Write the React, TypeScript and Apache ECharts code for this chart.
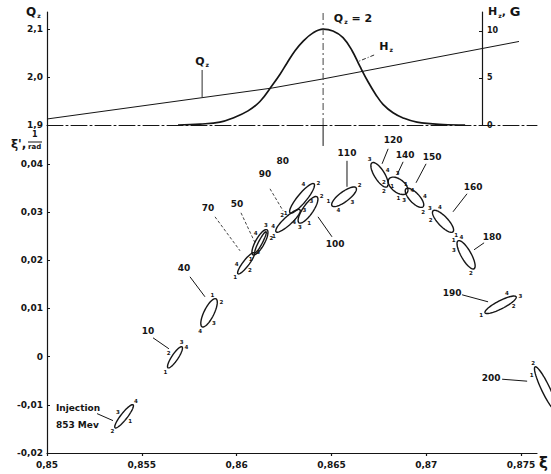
import React, { useEffect, useRef } from "react";
import * as echarts from "echarts";

// ---------- axes ----------
const xiMin = 0.85;
const xiMax = 0.87584;
const xiTicks = [0.85, 0.855, 0.86, 0.865, 0.87, 0.875];
const xiTickLabels = ["0,85", "0,855", "0,86", "0,865", "0,87", "0,875"];
const dXiMin = -0.02;
const dXiMax = 0.04805;
const dXiTicks = [-0.02, -0.01, 0, 0.01, 0.02, 0.03, 0.04];
const dXiTickLabels = ["-0,02", "-0,01", "0", "0,01", "0,02", "0,03", "0,04"];
const qMin = 1.9;
const qMax = 2.1354;
const qTicks = [1.9, 2.0, 2.1];
const qTickLabels = ["1,9", "2,0", "2,1"];
const hMin = 0;
const hMax = 12.02;
const hTicks = [0, 5, 10];
const hTickLabels = ["0", "5", "10"];

// ---------- top panel ----------
const resonanceXi = 0.86456;
const qLineXi = [0.85, 0.86187, 0.86456, 0.87489];
const qLineVal = [1.9125, 1.977, 1.996, 2.074];
const hCurveXi = [0.85691, 0.85807, 0.85912, 0.85981, 0.8606, 0.86123, 0.86187, 0.86229, 0.86266, 0.86308, 0.8635, 0.86403, 0.86456, 0.86508, 0.86561, 0.86609, 0.86651, 0.86693, 0.86735, 0.86772, 0.86825, 0.86878, 0.86951, 0.87089, 0.87205];
const hCurveVal = [0, 0.1, 0.3, 0.75, 1.5, 2.5, 4.2, 5.4, 6.6, 7.9, 8.9, 9.8, 10.2, 10.0, 9.3, 7.9, 6.2, 4.6, 3.2, 2.2, 1.3, 0.75, 0.3, 0.05, 0];

const topAnnText = ["{m|Q}{s|z}", "{m|H}{s|z}", "{m|Q}{s|z}{m| = 2}"];
const topAnnXi = [0.85818, 0.86788, 0.86614];
const topAnnQ = [2.0313, 2.0625, 2.1229];
const topLeadXi1 = [0.85818, 0.86725, NaN];
const topLeadQ1 = [2.0146, 2.0458, NaN];
const topLeadXi2 = [0.85818, 0.86635, NaN];
const topLeadQ2 = [1.9583, 2.0313, NaN];
const topLeadDash = [false, true, false];

// ---------- phase ellipses (turn number, major-axis ends, minor/major) ----------
const turns = ["inj", "10", "40", "70", "50", "60", "90", "80", "100", "110", "120", "140", "150", "160", "180", "190", "200"];
const p1Xi = [0.85359, 0.85638, 0.85818, 0.86007, 0.86086, 0.86097, 0.86208, 0.86282, 0.86329, 0.86503, 0.86714, 0.86804, 0.86893, 0.87036, 0.87168, 0.8731, 0.87574];
const p1dXi = [-0.01477, -0.00232, 0.00618, 0.01718, 0.02112, 0.02153, 0.02589, 0.02983, 0.02776, 0.03129, 0.04021, 0.03689, 0.03481, 0.03025, 0.02402, 0.00909, -0.00212];
const p2Xi = [0.85454, 0.85712, 0.85891, 0.86092, 0.8616, 0.86155, 0.86334, 0.86408, 0.86424, 0.8663, 0.86793, 0.86899, 0.86983, 0.87141, 0.87252, 0.87474, 0.87685];
const p2dXi = [-0.01, 0.00203, 0.01199, 0.02153, 0.02631, 0.02589, 0.03046, 0.03585, 0.03315, 0.03502, 0.03523, 0.03398, 0.03108, 0.02589, 0.01822, 0.01241, -0.01124];
const axisRatio = [0.22, 0.25, 0.32, 0.23, 0.31, 0.16, 0.25, 0.24, 0.32, 0.33, 0.36, 0.57, 0.4, 0.34, 0.31, 0.23, 0.17];
// where particles 1..4 sit on each ellipse (degrees of ellipse parameter; null = not marked)
const particleAngles: ((number | null)[] | null)[] = [
  [90, 180, 270, 0], [180, 270, 340, 30], [330, 40, 110, 180], [180, 100, 20, 250],
  [180, 60, 340, 290], null, [170, 270, 20, 225], [200, 20, 80, 300], [120, 20, 160, 210],
  [220, 0, 80, 130], [330, 30, 180, 270], [60, 150, 240, 330], [200, 20, 110, 290],
  [0, 120, 180, 230], [160, 30, 120, 210], [180, 60, 10, 300], [130, 180, null, null],
];

// ---------- lower panel annotations ----------
const annText = ["Injection\n853 Mev", "10", "40", "70", "50", "90", "80", "100", "110", "120", "140", "150", "160", "180", "190", "200"];
const annXi = [0.85047, 0.85533, 0.85723, 0.85849, 0.86002, 0.8615, 0.86243, 0.86519, 0.86582, 0.86825, 0.86888, 0.87031, 0.87247, 0.87347, 0.87136, 0.87342];
const anndXi = [-0.01249, 0.00535, 0.01842, 0.03087, 0.0317, 0.03793, 0.04063, 0.0234, 0.04228, 0.04498, 0.04187, 0.04145, 0.03523, 0.02485, 0.01324, -0.00448];
const annAlign = ["left", "center", "center", "center", "center", "center", "center", "center", "center", "center", "center", "center", "center", "center", "center", "center"];
const leadXi1 = [0.85264, 0.85559, 0.85754, 0.85886, 0.86023, 0.86176, NaN, 0.86429, 0.86582, 0.86799, 0.86878, 0.86999, 0.87215, 0.87305, 0.87189, 0.874];
const leaddXi1 = [-0.01183, 0.0039, 0.01656, 0.029, 0.02983, 0.03481, NaN, 0.029, 0.04062, 0.04311, 0.04041, 0.04, 0.03378, 0.02361, 0.01282, -0.00469];
const leadXi2 = [0.85348, 0.85643, 0.85833, 0.86018, 0.86097, 0.86245, NaN, 0.86503, 0.86582, 0.86767, 0.86846, 0.86946, 0.87141, 0.87252, 0.87326, 0.87532];
const leaddXi2 = [-0.01328, 0.00162, 0.01241, 0.02195, 0.02361, 0.03025, NaN, 0.02485, 0.03523, 0.04, 0.03772, 0.03606, 0.03004, 0.02216, 0.01137, -0.0051];
const leadDash = [false, false, false, true, true, true, false, false, false, false, false, false, false, false, false, false];

const INK = "#151515";
const FONT = "DejaVu Sans";

const pickLabel = (ticks: number[], labels: string[]) => (v: number) => {
  const i = ticks.findIndex((t) => Math.abs(t - v) < 1e-7);
  return i >= 0 ? labels[i] : "";
};

const renderEllipse = (params: any, api: any) => {
  const i = params.dataIndex;
  const a = api.coord([p1Xi[i], p1dXi[i]]);
  const b = api.coord([p2Xi[i], p2dXi[i]]);
  const cx = (a[0] + b[0]) / 2;
  const cy = (a[1] + b[1]) / 2;
  const dx = b[0] - a[0];
  const dy = b[1] - a[1];
  const L = Math.hypot(dx, dy);
  const ux = dx / L, uy = dy / L, vx = -uy, vy = ux;
  const ra = L / 2, rb = ra * axisRatio[i];
  const pts: number[][] = [];
  for (let k = 0; k < 60; k++) {
    const t = (k / 60) * Math.PI * 2;
    pts.push([cx + Math.cos(t) * ra * ux + Math.sin(t) * rb * vx, cy + Math.cos(t) * ra * uy + Math.sin(t) * rb * vy]);
  }
  const children: any[] = [
    { type: "polygon", shape: { points: pts }, style: { fill: "none", stroke: INK, lineWidth: 1.4 } },
  ];
  const angs = particleAngles[i];
  if (angs) {
    angs.forEach((deg, j) => {
      if (deg === null) return;
      const t = (deg * Math.PI) / 180;
      const px = cx + Math.cos(t) * (ra + 4.5) * ux + Math.sin(t) * (rb + 4.5) * vx;
      const py = cy + Math.cos(t) * (ra + 4.5) * uy + Math.sin(t) * (rb + 4.5) * vy;
      children.push({
        type: "text", x: px, y: py,
        style: { text: String(j + 1), fill: INK, fontSize: 5.5, fontWeight: "bold", fontFamily: FONT, align: "center", verticalAlign: "middle" },
      });
    });
  }
  return { type: "group", children };
};

const renderLowerAnn = (params: any, api: any) => {
  const i = params.dataIndex;
  const p = api.coord([annXi[i], anndXi[i]]);
  const children: any[] = [
    {
      type: "text", x: p[0], y: p[1],
      style: { text: annText[i], fill: INK, fontSize: 9, fontWeight: "bold", fontFamily: FONT, align: annAlign[i], verticalAlign: "middle", lineHeight: 17 },
    },
  ];
  if (!isNaN(leadXi1[i])) {
    const l1 = api.coord([leadXi1[i], leaddXi1[i]]);
    const l2 = api.coord([leadXi2[i], leaddXi2[i]]);
    children.push({
      type: "line", shape: { x1: l1[0], y1: l1[1], x2: l2[0], y2: l2[1] },
      style: { stroke: INK, lineWidth: leadDash[i] ? 0.8 : 1, lineDash: leadDash[i] ? [3, 2] : null },
    });
  }
  return { type: "group", children };
};

const renderTopAnn = (params: any, api: any) => {
  const i = params.dataIndex;
  const p = api.coord([topAnnXi[i], topAnnQ[i]]);
  const children: any[] = [
    {
      type: "text", x: p[0], y: p[1],
      style: {
        text: topAnnText[i], fill: INK, fontFamily: FONT, align: "center", verticalAlign: "middle",
        rich: {
          m: { fontSize: 11, fontWeight: "bold", fontFamily: FONT, fill: INK },
          s: { fontSize: 6, fontWeight: "bold", fontFamily: FONT, fill: INK, verticalAlign: "bottom", padding: [6, 0, 0, 1] },
        },
      },
    },
  ];
  if (!isNaN(topLeadXi1[i])) {
    const l1 = api.coord([topLeadXi1[i], topLeadQ1[i]]);
    const l2 = api.coord([topLeadXi2[i], topLeadQ2[i]]);
    children.push({
      type: "line", shape: { x1: l1[0], y1: l1[1], x2: l2[0], y2: l2[1] },
      style: { stroke: INK, lineWidth: 0.9, lineDash: topLeadDash[i] ? [4, 2, 1, 2] : null },
    });
  }
  return { type: "group", children };
};

const tickLabelStyle = { color: INK, fontSize: 9, fontWeight: "bold" as const, fontFamily: FONT };

export default function App() {
  const ref = useRef<HTMLDivElement>(null);
  useEffect(() => {
    if (!ref.current) return;
    const chart = echarts.init(ref.current, undefined, { renderer: "svg" });
    const option: any = {
      animation: false,
      backgroundColor: "#ffffff",
      grid: [
        { left: 47, top: 12, width: 490, height: 113 },
        { left: 47, top: 125, width: 490, height: 328 },
      ],
      xAxis: [
        {
          type: "value", gridIndex: 0, min: xiMin, max: xiMax, interval: 0.005,
          axisLine: { show: true, onZero: false, lineStyle: { color: INK, width: 1, type: [16, 3, 2, 3] } },
          axisTick: { show: false }, axisLabel: { show: false }, splitLine: { show: false },
        },
        {
          type: "value", gridIndex: 1, min: xiMin, max: xiMax, interval: 0.005,
          axisLine: { show: true, onZero: false, lineStyle: { color: INK, width: 1.2 } },
          axisTick: { show: true, length: 3, customValues: xiTicks, lineStyle: { color: INK, width: 1.2 } },
          axisLabel: { ...tickLabelStyle, margin: 7, customValues: xiTicks, formatter: pickLabel(xiTicks, xiTickLabels) },
          splitLine: { show: false },
        },
      ],
      yAxis: [
        {
          type: "value", gridIndex: 0, position: "left", min: qMin, max: qMax, interval: 0.1,
          axisLine: { show: true, onZero: false, lineStyle: { color: INK, width: 1.2 } },
          axisTick: { show: true, length: 3, inside: true, customValues: qTicks, lineStyle: { color: INK } },
          axisLabel: { ...tickLabelStyle, margin: 4, customValues: qTicks, formatter: pickLabel(qTicks, qTickLabels) },
          splitLine: { show: false },
        },
        {
          type: "value", gridIndex: 0, position: "right", offset: -55, min: hMin, max: hMax, interval: 5,
          axisLine: { show: true, onZero: false, lineStyle: { color: INK, width: 1.2 } },
          axisTick: { show: true, length: 3, inside: true, customValues: hTicks, lineStyle: { color: INK } },
          axisLabel: { ...tickLabelStyle, fontSize: 8, margin: 5, customValues: hTicks, formatter: pickLabel(hTicks, hTickLabels) },
          splitLine: { show: false },
        },
        {
          type: "value", gridIndex: 1, position: "left", min: dXiMin, max: dXiMax, interval: 0.01,
          axisLine: { show: true, onZero: false, lineStyle: { color: INK, width: 1.2 } },
          axisTick: { show: true, length: 3, inside: true, customValues: dXiTicks, lineStyle: { color: INK } },
          axisLabel: { ...tickLabelStyle, margin: 4, customValues: dXiTicks, formatter: pickLabel(dXiTicks, dXiTickLabels) },
          splitLine: { show: false },
        },
      ],
      series: [
        {
          type: "line", xAxisIndex: 0, yAxisIndex: 0, symbol: "none", silent: true,
          data: qLineXi.map((x, i) => [x, qLineVal[i]]),
          lineStyle: { color: INK, width: 1 },
        },
        {
          type: "line", xAxisIndex: 0, yAxisIndex: 1, symbol: "none", silent: true, smooth: 0.4,
          data: hCurveXi.map((x, i) => [x, hCurveVal[i]]),
          lineStyle: { color: INK, width: 1.7 },
        },
        {
          type: "line", xAxisIndex: 0, yAxisIndex: 0, symbol: "none", silent: true,
          data: [[resonanceXi, qMin], [resonanceXi, qMax]],
          lineStyle: { color: "#444", width: 1, type: [7, 3, 2, 3] },
        },
        {
          type: "line", xAxisIndex: 1, yAxisIndex: 2, symbol: "none", silent: true,
          data: [[resonanceXi, dXiMax], [resonanceXi, 0.0437]],
          lineStyle: { color: INK, width: 1 },
        },
        {
          type: "custom", xAxisIndex: 0, yAxisIndex: 0, clip: false, silent: true,
          data: topAnnXi.map((x, i) => [x, topAnnQ[i]]),
          renderItem: renderTopAnn,
        },
        {
          type: "custom", xAxisIndex: 1, yAxisIndex: 2, clip: false, silent: true,
          data: turns.map((_, i) => [(p1Xi[i] + p2Xi[i]) / 2, (p1dXi[i] + p2dXi[i]) / 2]),
          renderItem: renderEllipse,
        },
        {
          type: "custom", xAxisIndex: 1, yAxisIndex: 2, clip: false, silent: true,
          data: annXi.map((x, i) => [x, anndXi[i]]),
          renderItem: renderLowerAnn,
        },
      ],
      graphic: [
        {
          type: "text", left: 26, top: 6,
          style: {
            text: "{m|Q}{s|z}", fill: INK,
            rich: {
              m: { fontSize: 12, fontWeight: "bold", fontFamily: FONT, fill: INK },
              s: { fontSize: 6, fontWeight: "bold", fontFamily: FONT, fill: INK, verticalAlign: "bottom", padding: [7, 0, 0, 1] },
            },
          },
        },
        {
          type: "text", left: 488, top: 5,
          style: {
            text: "{m|H}{s|z}{m|, }{g|G}", fill: INK,
            rich: {
              m: { fontSize: 11, fontWeight: "bold", fontFamily: FONT, fill: INK },
              s: { fontSize: 6, fontWeight: "bold", fontFamily: FONT, fill: INK, verticalAlign: "bottom", padding: [6, 0, 0, 1] },
              g: { fontSize: 13, fontWeight: "bold", fontFamily: FONT, fill: INK },
            },
          },
        },
        { type: "text", left: 11, top: 138, style: { text: "ξ',", fill: INK, fontSize: 12, fontWeight: "bold", fontFamily: FONT } },
        { type: "text", left: 32, top: 130, style: { text: "1", fill: INK, fontSize: 8, fontWeight: "bold", fontFamily: FONT } },
        { type: "line", shape: { x1: 28, y1: 142, x2: 42, y2: 142 }, style: { stroke: INK, lineWidth: 1 } },
        { type: "text", left: 28, top: 143, style: { text: "rad", fill: INK, fontSize: 7, fontWeight: "bold", fontFamily: FONT } },
        { type: "text", left: 539, top: 455, style: { text: "ξ", fill: INK, fontSize: 15, fontWeight: "bold", fontFamily: FONT } },
      ],
    };
    chart.setOption(option);
    return () => chart.dispose();
  }, []);
  return (
    <div
      ref={ref}
      style={{ position: "absolute", left: 0, top: 0, width: 551, height: 474, background: "#fff" }}
    />
  );
}
